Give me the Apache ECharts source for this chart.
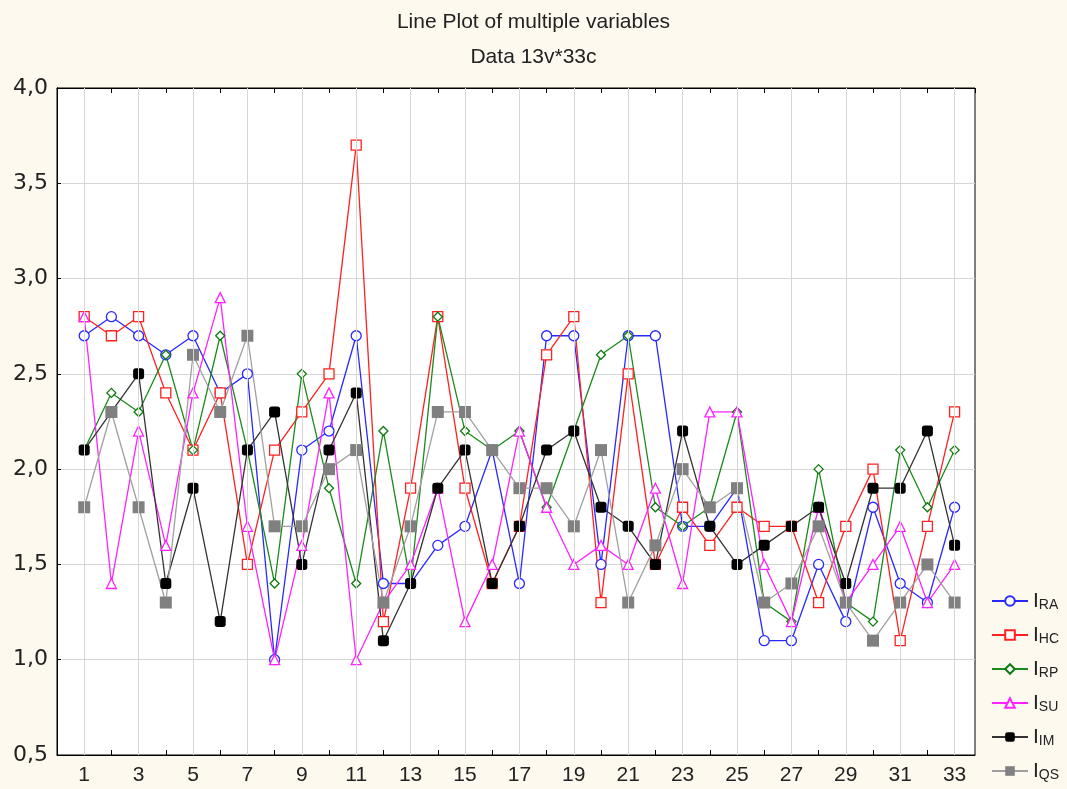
<!DOCTYPE html>
<html>
<head>
<meta charset="utf-8">
<script src="https://cdn.jsdelivr.net/npm/echarts@6/dist/echarts.min.js"></script>
<style>
html,body{margin:0;padding:0;background:#fdf9ef;}
#c{width:1067px;height:789px;}
</style>
</head>
<body>
<div id="c"></div>
<script>
var cats = [1,2,3,4,5,6,7,8,9,10,11,12,13,14,15,16,17,18,19,20,21,22,23,24,25,26,27,28,29,30,31,32,33];
var seriesNames = ['RA','HC','RP','SU','IM','QS'];
var RA = [2.7,2.8,2.7,2.6,2.7,2.4,2.5,1.0,2.1,2.2,2.7,1.4,1.4,1.6,1.7,2.1,1.4,2.7,2.7,1.5,2.7,2.7,1.7,1.7,1.9,1.1,1.1,1.5,1.2,1.8,1.4,1.3,1.8];
var HC = [2.8,2.7,2.8,2.4,2.1,2.4,1.5,2.1,2.3,2.5,3.7,1.2,1.9,2.8,1.9,1.4,1.7,2.6,2.8,1.3,2.5,1.5,1.8,1.6,1.8,1.7,1.7,1.3,1.7,2.0,1.1,1.7,2.3];
var RP = [2.1,2.4,2.3,2.6,2.1,2.7,2.1,1.4,2.5,1.9,1.4,2.2,1.4,2.8,2.2,2.1,2.2,1.8,2.2,2.6,2.7,1.8,1.7,1.8,2.3,1.3,1.2,2.0,1.3,1.2,2.1,1.8,2.1];
var SU = [2.8,1.4,2.2,1.6,2.4,2.9,1.7,1.0,1.6,2.4,1.0,1.3,1.5,1.9,1.2,1.5,2.2,1.8,1.5,1.6,1.5,1.9,1.4,2.3,2.3,1.5,1.2,1.8,1.3,1.5,1.7,1.3,1.5];
var IM = [2.1,2.3,2.5,1.4,1.9,1.2,2.1,2.3,1.5,2.1,2.4,1.1,1.4,1.9,2.1,1.4,1.7,2.1,2.2,1.8,1.7,1.5,2.2,1.7,1.5,1.6,1.7,1.8,1.4,1.9,1.9,2.2,1.6];
var QS = [1.8,2.3,1.8,1.3,2.6,2.3,2.7,1.7,1.7,2.0,2.1,1.3,1.7,2.3,2.3,2.1,1.9,1.9,1.7,2.1,1.3,1.6,2.0,1.8,1.9,1.3,1.4,1.7,1.3,1.1,1.3,1.5,1.3];
var titleText = 'Line Plot of multiple variables';
var subTitleText = 'Data 13v*33c';

var values = {RA:RA,HC:HC,RP:RP,SU:SU,IM:IM,QS:QS};
var styles = {
  RA:{color:'#2828ff', line:'#2828ff', symbol:'circle', size:10, fill:'#ffffff'},
  HC:{color:'#ff2020', line:'#ff2020', symbol:'rect', size:10, fill:'#ffffff'},
  RP:{color:'#0d7a0d', line:'#1a8a1a', symbol:'diamond', size:9, fill:'#ffffff'},
  SU:{color:'#ff22ff', line:'#ff22ff', symbol:'triangle', size:10, fill:'#ffffff'},
  IM:{color:'#000000', line:'#333333', symbol:'roundRect', size:11, fill:'#000000'},
  QS:{color:'#808080', line:'#a0a0a0', symbol:'rect', size:12, fill:'#808080'}
};
var sans = '"Liberation Sans Narrow","Liberation Sans",Arial,sans-serif';

var chart = echarts.init(document.getElementById('c'), null, {renderer:'canvas'});

var series = [];
series.push({
  type:'line', data:[], silent:true, z:1,
  markLine:{
    silent:true, symbol:['none','none'], label:{show:false},
    lineStyle:{color:'#d6d6d6', width:1, type:'solid'},
    emphasis:{disabled:true},
    animation:false,
    data: cats.filter(function(c){return c % 2 === 1;}).map(function(c){return {xAxis:c};})
  }
});
seriesNames.forEach(function(n){
  var s = styles[n];
  series.push({
    name:n, type:'line', z:3,
    data: cats.map(function(c,i){return [c, values[n][i]];}),
    symbol:s.symbol, symbolSize:s.size, showAllSymbol:true,
    lineStyle:{color:s.line, width:1.3},
    itemStyle:{color:s.fill, borderColor:s.color, borderWidth:(s.fill==='#ffffff'?1.3:0)},
    emphasis:{disabled:true},
    animation:false
  });
});

chart.setOption({
  backgroundColor:'#fdf9ef',
  animation:false,
  title:{
    text: titleText + '\n' + subTitleText,
    left:'center', top:0,
    textStyle:{fontFamily:sans, fontSize:21, fontWeight:'normal', color:'#222', lineHeight:35}
  },
  grid:{left:57, top:88, right:92, bottom:34, show:true, backgroundColor:'#ffffff', borderColor:'#000', borderWidth:1},
  legend:{
    orient:'vertical', left:991, top:590, height:199, padding:0, itemGap:12, itemWidth:36, itemHeight:12,
    data: seriesNames,
    formatter:function(n){return '{i|I}{s|' + n + '}';},
    textStyle:{
      fontFamily:sans, color:'#222', lineHeight:22,
      rich:{
        i:{fontFamily:sans, fontSize:21, color:'#222', verticalAlign:'bottom', lineHeight:22},
        s:{fontFamily:sans, fontSize:14, color:'#222', verticalAlign:'bottom', lineHeight:16}
      }
    }
  },
  xAxis:[{
    type:'value', min:0, max:33.75, interval:1,
    axisLine:{show:true, lineStyle:{color:'#000'}},
    axisTick:{show:true, inside:true, length:5, lineStyle:{color:'#000'}},
    splitLine:{show:false},
    axisLabel:{
      fontFamily:sans, fontSize:21, color:'#222', margin:10,
      showMinLabel:false, showMaxLabel:false,
      formatter:function(v){ return (Math.abs(v - Math.round(v))<1e-9 && Math.round(v)%2===1 && cats.indexOf(Math.round(v))>=0) ? String(Math.round(v)) : ''; }
    }
  },{
    type:'value', min:0, max:33.75, interval:1, position:'top',
    axisLine:{show:true, lineStyle:{color:'#000'}},
    axisTick:{show:true, inside:true, length:5, lineStyle:{color:'#000'}},
    splitLine:{show:false}, axisLabel:{show:false}
  }],
  yAxis:[{
    type:'value', min:0.5, max:4.0, interval:0.5,
    axisLine:{show:true, lineStyle:{color:'#000'}},
    axisTick:{show:false},
    splitLine:{show:true, lineStyle:{color:'#d6d6d6', width:1}},
    axisLabel:{
      fontFamily:'"DejaVu Sans",Verdana,sans-serif', fontSize:22, color:'#222', margin:9,
      formatter:function(v){return v.toFixed(1).replace('.', ',');}
    }
  },{
    type:'value', min:0.5, max:4.0, interval:0.5, position:'right',
    axisLine:{show:true, lineStyle:{color:'#000'}},
    axisTick:{show:true, inside:false, length:4, lineStyle:{color:'#000'}},
    splitLine:{show:false}, axisLabel:{show:false}
  }],
  series: series
});
</script>
</body>
</html>
